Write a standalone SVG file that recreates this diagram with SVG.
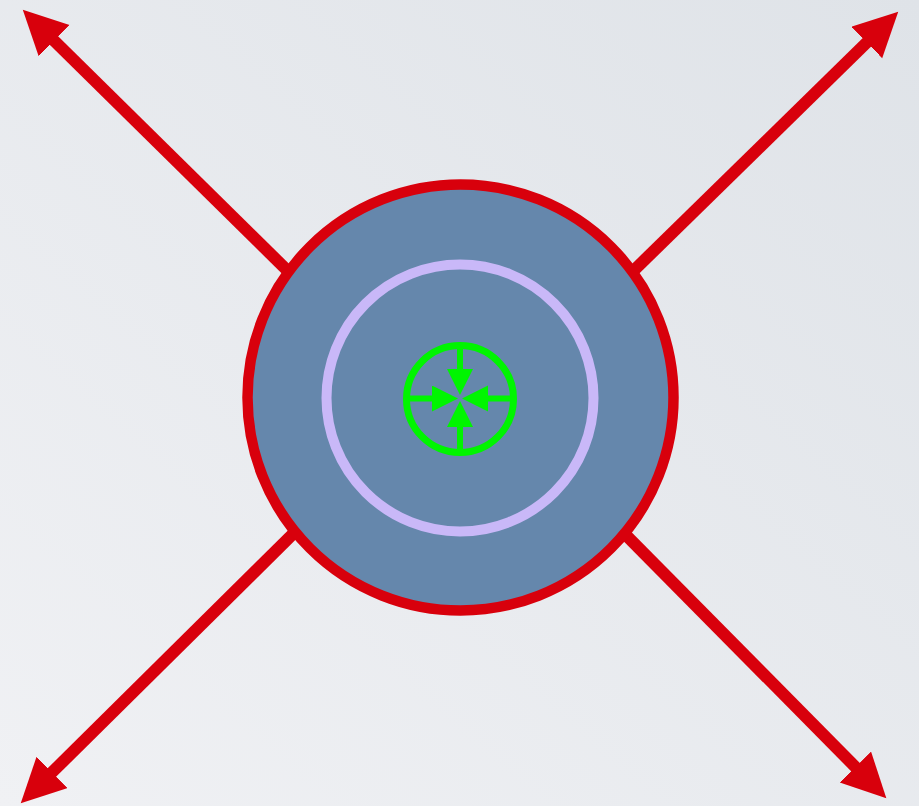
<svg xmlns="http://www.w3.org/2000/svg" width="919" height="806" viewBox="0 0 919 806">
  <style>
    .red-arrow { stroke: #d8000c; stroke-width: 12; fill: none; }
    .green-line { stroke: #00f500; stroke-width: 6; fill: none; }
  </style>
  <defs>
    <linearGradient id="bg" x1="0" y1="1" x2="1" y2="0">
      <stop offset="0" stop-color="#f0f1f4"/>
      <stop offset="1" stop-color="#dfe3e8"/>
    </linearGradient>
    <marker id="redHead" markerUnits="userSpaceOnUse" markerWidth="46" markerHeight="46" refX="1" refY="22" orient="auto" viewBox="0 0 46 46">
      <path d="M0,0 L44,22 L0,44 Z" fill="#d8000c"/>
    </marker>
    <marker id="greenHead" markerUnits="userSpaceOnUse" markerWidth="28" markerHeight="28" refX="1" refY="13" orient="auto" viewBox="0 0 28 28">
      <path d="M0,0 L26,13 L0,26 Z" fill="#00f500"/>
    </marker>
  </defs>
  <rect x="0" y="0" width="919" height="806" fill="url(#bg)"/>

  <g id="connectors">
    <line class="red-arrow" x1="300" y1="283" x2="53.4" y2="39.9" marker-end="url(#redHead)"/>
    <line class="red-arrow" x1="621" y1="283" x2="867.5" y2="41.8" marker-end="url(#redHead)"/>
    <line class="red-arrow" x1="613" y1="522" x2="856.1" y2="767.7" marker-end="url(#redHead)"/>
    <line class="red-arrow" x1="305" y1="522" x2="51.3" y2="773.1" marker-end="url(#redHead)"/>
  </g>

  <g id="node-main">
    <circle cx="460.5" cy="397.5" r="213" fill="#6587ac" stroke="#d8000c" stroke-width="10.5"/>
    <circle cx="460" cy="398" r="133.5" fill="none" stroke="#c9b8f8" stroke-width="10"/>
  </g>

  <g id="node-target">
    <circle cx="460" cy="399" r="53.5" fill="none" stroke="#00f500" stroke-width="7"/>
    <line class="green-line" x1="460" y1="346" x2="460" y2="370" marker-end="url(#greenHead)"/>
    <line class="green-line" x1="460" y1="452" x2="460" y2="426" marker-end="url(#greenHead)"/>
    <line class="green-line" x1="407" y1="398.5" x2="433" y2="398.5" marker-end="url(#greenHead)"/>
    <line class="green-line" x1="513" y1="398.5" x2="487" y2="398.5" marker-end="url(#greenHead)"/>
  </g>
</svg>
